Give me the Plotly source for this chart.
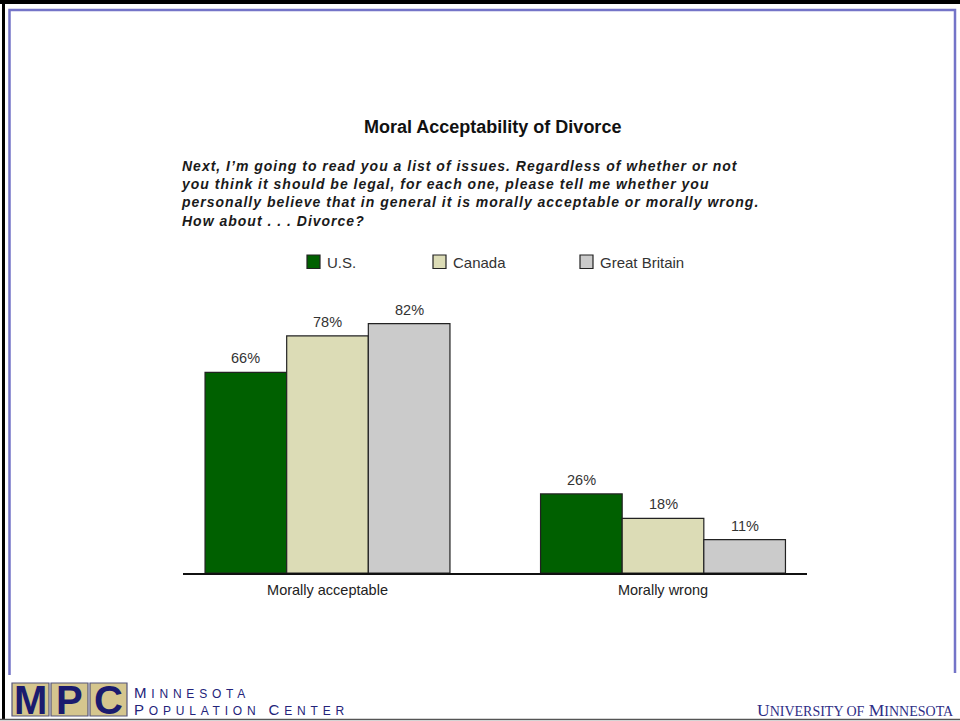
import plotly.graph_objects as go

# ---- data ----
categories = ["Morally acceptable", "Morally wrong"]
series_names = ["U.S.", "Canada", "Great Britain"]
us_values = [66, 26]
canada_values = [78, 18]
gb_values = [82, 11]
title_text = "Moral Acceptability of Divorce"
question_lines = [
    "Next, I\u2019m going to read you a list of issues. Regardless of whether or not",
    "you think it should be legal, for each one, please tell me whether you",
    "personally believe that in general it is morally acceptable or morally wrong.",
    "How about . . . Divorce?",
]

# ---- style ----
W, H = 960, 721
colors = ["#006000", "#dcdcb6", "#cbcbcb"]
FONT = "Liberation Sans, Arial, sans-serif"
SERIF = "Liberation Serif, Times New Roman, serif"
NAVY = "#23237a"
BLUE_FRAME = "#7474c8"


def X(px):
    return px / W


def Y(py):
    return 1 - py / H


values = [us_values, canada_values, gb_values]
bargap = 0.27
fig = go.Figure()
for name, vals, col in zip(series_names, values, colors):
    fig.add_trace(go.Bar(
        x=categories, y=vals, name=name,
        marker=dict(color=col, line=dict(color="#222222", width=1.2)),
        showlegend=False, hoverinfo="skip",
    ))

# value labels, placed through the axis scale
n = len(series_names)
bw = (1 - bargap) / n
annotations = []
for i, vals in enumerate(values):
    for j, v in enumerate(vals):
        annotations.append(dict(
            x=j + (i - (n - 1) / 2) * bw, y=v, xref="x", yref="y",
            text=f"{v}%", showarrow=False, yanchor="bottom", yshift=4,
            font=dict(family=FONT, size=14.5, color="#333333"),
        ))

# title and question
annotations.append(dict(
    x=X(492.5), y=Y(127), xref="paper", yref="paper", text=f"<b>{title_text}</b>",
    showarrow=False, xanchor="center", yanchor="middle",
    font=dict(family=FONT, size=18, color="#111111"),
))
annotations.append(dict(
    x=X(179), y=Y(193), xref="paper", yref="paper",
    text="<b><i><span style='letter-spacing:1px'>" + "<br>".join(question_lines) + "</span></i></b>",
    showarrow=False, xanchor="left", yanchor="middle", align="left",
    font=dict(family=FONT, size=14, color="#1a1a1a"),
))

# manual legend
legend_x = [307, 433, 580]
shapes = []
for lx, name, col in zip(legend_x, series_names, colors):
    shapes.append(dict(type="rect", xref="paper", yref="paper",
                       x0=X(lx), x1=X(lx + 13), y0=Y(268.5), y1=Y(255),
                       fillcolor=col, line=dict(color="#222222", width=1.2)))
    annotations.append(dict(
        x=X(lx + 18), y=Y(262), xref="paper", yref="paper", text=name,
        showarrow=False, xanchor="left", yanchor="middle",
        font=dict(family=FONT, size=15, color="#333333"),
    ))

# frames
shapes += [
    dict(type="line", xref="paper", yref="paper", x0=0, x1=1, y0=Y(2), y1=Y(2),
         line=dict(color="black", width=4)),
    dict(type="line", xref="paper", yref="paper", x0=X(3.5), x1=X(3.5), y0=Y(0), y1=Y(719),
         line=dict(color="black", width=3)),
    dict(type="line", xref="paper", yref="paper", x0=0, x1=1, y0=Y(719.5), y1=Y(719.5),
         line=dict(color="#555555", width=1.5)),
    dict(type="path", xref="paper", yref="paper",
         path=f"M {X(9.5)} {Y(675)} L {X(9.5)} {Y(10)} L {X(955)} {Y(10)} L {X(955)} {Y(673)}",
         line=dict(color=BLUE_FRAME, width=2.5)),
]

# MPC logo boxes
box_x = [12, 51, 90]
for bx, letter in zip(box_x, ["M", "P", "C"]):
    shapes.append(dict(type="rect", xref="paper", yref="paper",
                       x0=X(bx), x1=X(bx + 37), y0=Y(716), y1=Y(683),
                       fillcolor="#d5c68e", line=dict(color="#55557a", width=1.2)))
    annotations.append(dict(
        x=X(bx + 18.5), y=Y(700), xref="paper", yref="paper",
        text=f"<b>{letter}</b>", showarrow=False, xanchor="center", yanchor="middle",
        font=dict(family=FONT, size=40, color="#1b1b6e"),
    ))

SC = "font-size:12px;letter-spacing:4.8px"
annotations.append(dict(
    x=X(132), y=Y(692), xref="paper", yref="paper",
    text=f"<span style='letter-spacing:4.8px'>M</span><span style='{SC}'>INNESOTA</span>",
    showarrow=False, xanchor="left", yanchor="middle",
    font=dict(family=FONT, size=15, color=NAVY),
))
annotations.append(dict(
    x=X(132), y=Y(709), xref="paper", yref="paper",
    text=(f"<span style='letter-spacing:4.8px'>P</span><span style='{SC}'>OPULATION </span>"
          f"<span style='letter-spacing:4.8px'>C</span><span style='{SC}'>ENTER</span>"),
    showarrow=False, xanchor="left", yanchor="middle",
    font=dict(family=FONT, size=15, color=NAVY),
))
annotations.append(dict(
    x=X(955.5), y=Y(710), xref="paper", yref="paper",
    text="U<span style='font-size:14px'>NIVERSITY OF</span> M<span style='font-size:14px'>INNESOTA</span>",
    showarrow=False, xanchor="right", yanchor="middle",
    font=dict(family=SERIF, size=17.5, color="#2e2e86"),
))

# axes geometry
base_px, top_px = 573, 299.4
ymax = 90
x_left, x_right = 183, 807
c1, c2 = 327.5, 663
unit = c2 - c1
xr = [-(c1 - x_left) / unit, 1 + (x_right - c2) / unit]

fig.update_layout(
    width=W, height=H, margin=dict(l=0, r=0, t=0, b=0),
    paper_bgcolor="white", plot_bgcolor="white",
    barmode="group", bargap=bargap, bargroupgap=0,
    shapes=shapes, annotations=annotations,
    xaxis=dict(domain=[X(x_left), X(x_right)], range=xr, showgrid=False,
               showline=True, linecolor="#111111", linewidth=2, ticks="",
               ticklabelstandoff=3,
               tickfont=dict(family=FONT, size=14.5, color="#222222"), fixedrange=True),
    yaxis=dict(domain=[Y(base_px), Y(top_px)], range=[0, ymax], visible=False,
               showgrid=False, zeroline=False, fixedrange=True),
)

fig.write_html("out.html")
